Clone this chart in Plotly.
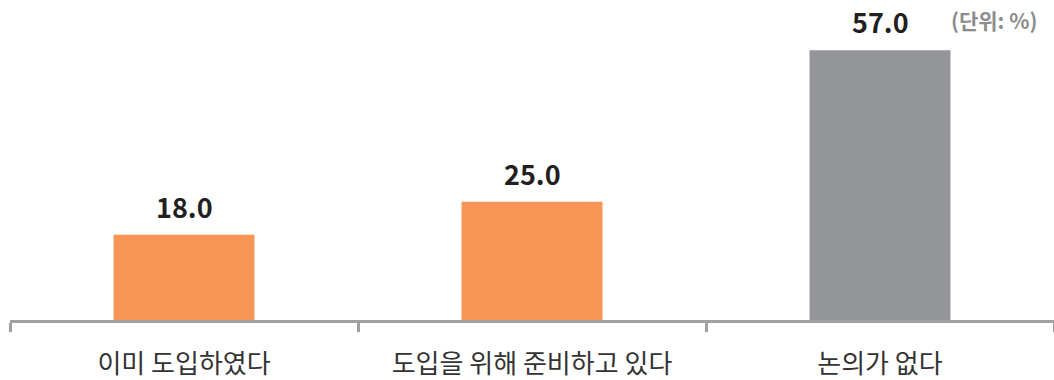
import plotly.graph_objects as go

categories = ["이미 도입하였다", "도입을 위해 준비하고 있다", "논의가 없다"]
values = [18.0, 25.0, 57.0]
bar_colors = ["#F79556", "#F79556", "#939598"]
unit_label = "(단위: %)"

FONT = "Noto Sans CJK KR"

fig = go.Figure()
fig.add_trace(go.Bar(
    x=categories, y=values,
    marker=dict(color=bar_colors, line=dict(width=0)),
    width=0.405,
    hoverinfo="skip",
))

for c, v in zip(categories, values):
    fig.add_annotation(
        x=c, y=v, text=f"<b>{v:.1f}</b>", showarrow=False,
        yanchor="bottom", yshift=7,
        font=dict(family=FONT, size=27, color="#231F20"),
    )

fig.add_annotation(
    xref="paper", yref="paper", x=0.986, y=1.0,
    xanchor="right", yanchor="middle",
    text=f"<b>{unit_label}</b>", showarrow=False,
    font=dict(family=FONT, size=21, color="#8C8C8C"),
)

fig.update_layout(
    width=1054, height=380,
    margin=dict(l=10, r=0, t=20, b=60),
    plot_bgcolor="white", paper_bgcolor="white",
    showlegend=False,
    font=dict(family=FONT),
    xaxis=dict(
        showline=True, linecolor="#A0A0A2", linewidth=3,
        ticks="outside", tickson="boundaries", ticklen=9, tickwidth=3,
        tickcolor="#A0A0A2",
        tickfont=dict(family=FONT, size=26, color="#333333"),
        showgrid=False, zeroline=False,
        ticklabelstandoff=19,
    ),
    yaxis=dict(range=[0, 63.4], visible=False, showgrid=False, zeroline=False),
)

fig.write_html("out.html")
